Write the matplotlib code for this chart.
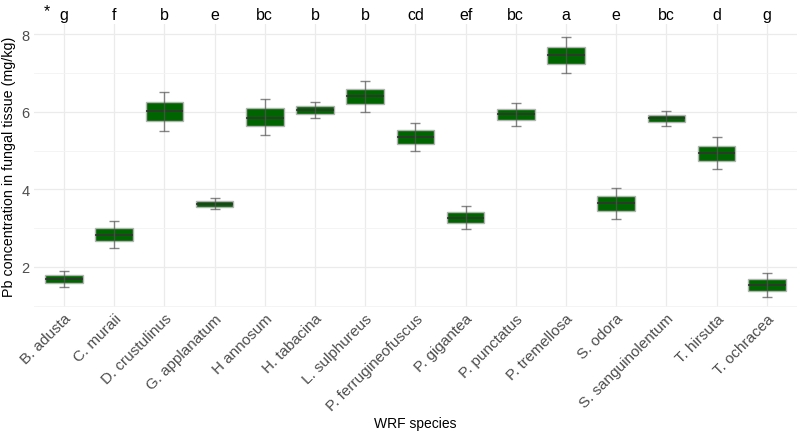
import matplotlib
matplotlib.use('Agg')
import matplotlib.pyplot as plt
import numpy as np

plt.rcParams['font.family'] = ['Liberation Sans', 'DejaVu Sans']

species = ['B. adusta', 'C. muraii', 'D. crustulinus', 'G. applanatum', 'H annosum',
           'H. tabacina', 'L. sulphureus', 'P. ferrugineofuscus', 'P. gigantea',
           'P. punctatus', 'P. tremellosa', 'S. odora', 'S. sanguinolentum',
           'T. hirsuta', 'T. ochracea']
letters = ['g', 'f', 'b', 'e', 'bc', 'b', 'b', 'cd', 'ef', 'bc', 'a', 'e', 'bc', 'd', 'g']

# box stats (mg/kg)
whisker_low = [1.48, 2.48, 5.50, 3.49, 5.41, 5.84, 6.00, 5.00, 2.99, 5.63, 7.01, 3.24, 5.63, 4.52, 1.23]
q1 = [1.58, 2.66, 5.76, 3.55, 5.63, 5.94, 6.20, 5.18, 3.13, 5.79, 7.24, 3.44, 5.73, 4.72, 1.37]
median = [1.68, 2.83, 6.02, 3.62, 5.84, 6.05, 6.40, 5.36, 3.27, 5.93, 7.47, 3.64, 5.84, 4.93, 1.54]
q3 = [1.79, 3.00, 6.26, 3.70, 6.09, 6.15, 6.59, 5.53, 3.42, 6.08, 7.68, 3.84, 5.92, 5.13, 1.69]
whisker_high = [1.89, 3.19, 6.52, 3.77, 6.33, 6.25, 6.80, 5.70, 3.56, 6.23, 7.93, 4.04, 6.02, 5.34, 1.85]

stats = []
for i, name in enumerate(species):
    stats.append({'label': name, 'whislo': whisker_low[i], 'q1': q1[i], 'med': median[i],
                  'q3': q3[i], 'whishi': whisker_high[i], 'fliers': []})

fig = plt.figure(figsize=(8, 4.35), dpi=100)
ax = fig.add_axes([0.0425, 0.292, 0.9535, 0.6505])

pos = np.arange(len(species))
ax.bxp(stats, positions=pos, widths=0.75, patch_artist=True, showcaps=False,
       boxprops=dict(facecolor='#006400', edgecolor='#b3b3b3', linewidth=1.0),
       medianprops=dict(color='#333333', linewidth=1.2),
       whiskerprops=dict(linewidth=0), zorder=2)

# error bars drawn over the boxes
mid = np.array(median)
ax.errorbar(pos, mid, yerr=[mid - np.array(whisker_low), np.array(whisker_high) - mid],
            fmt='none', ecolor='#555555', alpha=0.7, elinewidth=1.0, capsize=3.6,
            capthick=1.0, zorder=3)

ax.set_xlim(-0.6, len(species) - 0.4)
ax.set_ylim(0.97, 8.26)
ax.set_yticks([2, 4, 6, 8])
ax.set_yticks([1, 3, 5, 7], minor=True)
ax.set_xticks(pos)
ax.set_xticklabels(species, rotation=45, ha='right', va='top', rotation_mode='anchor',
                   fontsize=11, color='#4d4d4d')
ax.tick_params(axis='y', labelsize=10.5, labelcolor='#4d4d4d')
ax.tick_params(which='both', length=0, pad=3)

ax.grid(True, which='major', color='#ebebeb', linewidth=0.9)
ax.grid(True, which='minor', axis='y', color='#f3f3f3', linewidth=0.6)
ax.set_axisbelow(True)
for s in ax.spines.values():
    s.set_visible(False)

for i, t in enumerate(letters):
    ax.text(pos[i], 8.5, t, ha='center', va='center', fontsize=11.5, color='black',
            clip_on=False)
ax.text(-0.34, 8.6, '*', ha='center', va='center', fontsize=11.5, clip_on=False)

ax.set_xlabel('WRF species', fontsize=10, color='black', va='center')
ax.xaxis.set_label_coords(0.5, -0.41)
ax.set_ylabel('Pb concentration in fungal tissue (mg/kg)', fontsize=10.3, color='black',
              labelpad=4)

fig.savefig('out.png', dpi=100)
